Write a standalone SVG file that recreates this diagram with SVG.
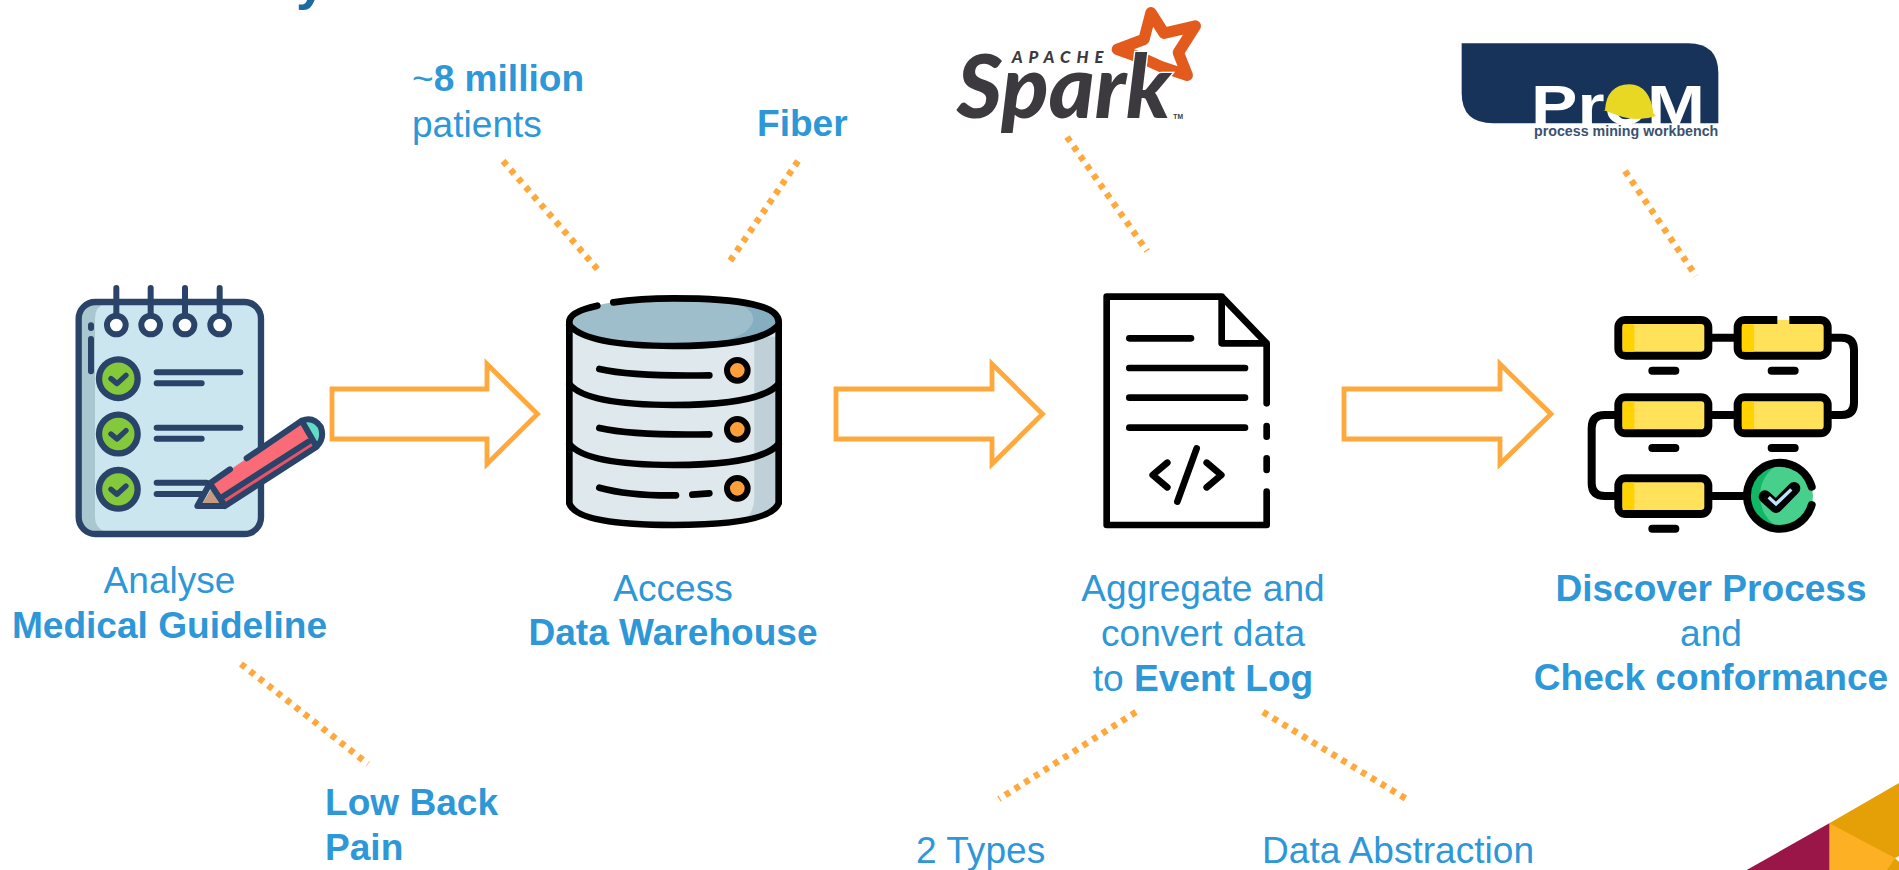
<svg xmlns="http://www.w3.org/2000/svg" width="1899" height="870" viewBox="0 0 1899 870">
<style>
text{font-family:"Liberation Sans",Arial,sans-serif;font-size:37.1px;fill:#2e97d8}
.b{font-weight:700}
.m{text-anchor:middle}
.arrow{fill:#fff;stroke:#ffa83c;stroke-width:4.8;stroke-miterlimit:10}
.dot{fill:none;stroke:#ffa83c;stroke-width:6.5;stroke-dasharray:5.5 6}
.nv{fill:none;stroke:#2a4369;stroke-width:18;stroke-linecap:round;stroke-linejoin:round}
.k{fill:none;stroke:#000;stroke-width:20;stroke-linecap:round;stroke-linejoin:round}
.box{fill:#ffe15a;stroke:#000;stroke-width:24}
.band{fill:#ffd200}
.ring{fill:#fff;stroke:#2a4369;stroke-width:18}
.ck{fill:#84c83b;stroke:#2a4369;stroke-width:19}
.led{fill:#ff9f3a;stroke:#000;stroke-width:18}
</style>
<rect width="1899" height="870" fill="#fff"/>
<g id="title"><text class="b" x="296" y="-1" style="font-size:54px;fill:#1b6ba0">y</text></g>
<g id="corner">
<polygon points="1829.3,823.3 1899,783 1899,870 1829.3,870" fill="#e5a007"/>
<polygon points="1829.3,823.3 1895,858 1887,870 1829.3,870" fill="#feb024"/>
<polygon points="1895,858 1899,856 1899,862" fill="#fff"/>
<polygon points="1829.3,823.3 1829.3,870 1746.7,870" fill="#9a1548"/>
</g>
<g id="connectors">
<path class="arrow" d="M332,389H487V364L537.500,414L487,464V439H332Z"/>
<path class="arrow" d="M836,389H992V364L1042.500,414L992,464V439H836Z"/>
<path class="arrow" d="M1344,389H1500V364L1551,414L1500,464V439H1344Z"/>
<path class="dot" d="M503,161L599,271"/>
<path class="dot" d="M798,161L728,264"/>
<path class="dot" d="M1067,137L1147,251"/>
<path class="dot" d="M1625,171L1696,276"/>
<path class="dot" d="M241,664L368,764"/>
<path class="dot" d="M1136,712L999,799"/>
<path class="dot" d="M1263,712L1408,800"/>
</g>
<g id="node-guideline">
<g transform="translate(60,270) scale(.33333)">
<rect x="56" y="96" width="547" height="696" rx="50" fill="#cbe6ef"/>
<path d="M105,100Q60,100 60,146V742Q60,785 105,785H135Q105,775 105,742V146Q105,110 135,100Z" fill="#a9c7cf"/>
<rect x="56" y="96" width="547" height="696" rx="50" fill="none" stroke="#2a4369" stroke-width="19"/>
<path class="nv" d="M169,54V130M272,54V130M375,54V130M479,54V130M93,166V174M93,207V304"/>
<circle class="ring" cx="169" cy="165" r="28"/><circle class="ring" cx="272" cy="165" r="28"/><circle class="ring" cx="375" cy="165" r="28"/><circle class="ring" cx="479" cy="165" r="28"/>
<circle class="ck" cx="175" cy="326" r="58"/><circle class="ck" cx="175" cy="492" r="58"/><circle class="ck" cx="175" cy="658" r="58"/>
<path class="nv" style="stroke-width:16" d="M153,326L171,341L198,316M153,492L171,507L198,482M153,658L171,673L198,648"/>
<path class="nv" d="M290,307H541M290,340H425M290,473H541M290,506H425M290,638H440M290,672H425"/>
<polygon points="452,640 725,452 748,512 488,680" fill="#fb6b77"/>
<polygon points="488,680 748,512 770,530 495,708" fill="#e9536a"/>
<polygon points="428,700 455,655 482,700" fill="#c49a80"/>
<path d="M725,452Q760,438 782,470Q795,505 770,530Z" fill="#63dcc5"/>
<path class="nv" d="M560,565L725,452Q760,438 782,470Q795,505 770,530L495,708H412L450,640L510,598M450,640L495,708M725,452L770,530M488,680L745,515"/>
</g>
<text class="m" x="169.500" y="593">Analyse</text>
<text class="m b" x="169.500" y="638">Medical Guideline</text>
<text class="b" x="325" y="815">Low Back</text>
<text class="b" x="325" y="860">Pain</text>
</g>
<g id="node-warehouse">
<g transform="translate(520,270) scale(.33333)">
<path d="M148,155V700Q170,765 460,765Q750,765 776,700V155Z" fill="#dee8ed"/>
<path d="M703,200H776V700Q760,740 660,752Q703,740 703,680Z" fill="#bfd0d8"/>
<ellipse cx="460" cy="155" rx="312" ry="72" fill="#9fbecb"/>
<path d="M590,90Q700,100 700,150Q690,205 560,220Q772,210 772,155Q760,105 590,90Z" fill="#85afc0"/>
<path class="k" d="M232,107Q148,125 148,155V700Q170,765 460,765Q750,765 776,700V155Q776,85 460,85Q360,85 280,97"/>
<path class="k" d="M148,165Q200,228 460,228Q720,228 776,165"/>
<path class="k" d="M148,342Q200,405 460,405Q720,405 776,342"/>
<path class="k" d="M148,522Q200,585 460,585Q720,585 776,522"/>
<path class="k" d="M238,297Q340,320 568,316M238,474Q340,497 568,493M238,653Q330,678 468,676M517,674L568,670"/>
<circle class="led" cx="652" cy="301" r="31"/><circle class="led" cx="652" cy="478" r="31"/><circle class="led" cx="652" cy="655" r="31"/>
</g>
<text x="412" y="91"><tspan>~</tspan><tspan class="b">8 million</tspan></text>
<text x="412" y="137">patients</text>
<text class="b" x="757" y="136">Fiber</text>
<text class="m" x="673" y="601">Access</text>
<text class="m b" x="673" y="645">Data Warehouse</text>
</g>
<g id="node-eventlog">
<g transform="translate(1080,280) scale(.33333)">
<path class="k" d="M560,370V190L425,50H80V735H560V635M425,50V190H560M560,438V470M560,535V570M148,175H333M148,264H495M148,353H495M148,443H495M262,548L218,585L262,622M380,548L424,585L380,622M350,505L292,665"/>
</g>
<g id="logo-spark">
<g transform="translate(930,0) scale(.33333)">
<path d="M663,38L702,100L796,78L745,158L772,226L693,200L640,176L562,148L642,118Z" fill="#fff" stroke="#e25a1c" stroke-width="34" stroke-linejoin="round"/>
<text x="80" y="355" textLength="642" lengthAdjust="spacingAndGlyphs" style="font-family:Lato,sans-serif;font-size:262px;font-weight:900;font-style:italic;fill:#3c3a3e;stroke:#fff;stroke-width:8px;paint-order:stroke">Spark</text>
<text x="245" y="190" textLength="275" style="font-family:Lato,sans-serif;font-size:50px;font-weight:900;font-style:italic;fill:#3c3a3e">APACHE</text>
<text x="730" y="356" style="font-family:'Liberation Sans',sans-serif;font-size:20px;font-weight:700;fill:#3c3a3e">TM</text>
</g>
</g>
<text class="m" x="1203" y="601">Aggregate and</text>
<text class="m" x="1203" y="646">convert data</text>
<text class="m" x="1203" y="691">to <tspan class="b">Event Log</tspan></text>
<text x="916" y="863">2 Types</text>
<text x="1262" y="863">Data Abstraction</text>
</g>
<g id="node-process">
<g transform="translate(1570,300) scale(.33333)">
<path class="k" style="stroke-width:24" d="M415,113H503M773,113H815Q852,113 852,150V308Q852,345 815,345H773M415,345H503M145,345H105Q65,345 65,385V550Q65,588 105,588H145M415,588H530M247,212H316M605,212H674M247,444H316M605,444H674M247,686H316"/>
<rect class="box" x="145" y="60" width="270" height="107" rx="22"/>
<rect class="box" x="503" y="60" width="270" height="107" rx="22"/>
<rect class="box" x="145" y="292" width="270" height="108" rx="22"/>
<rect class="box" x="503" y="292" width="270" height="108" rx="22"/>
<rect class="box" x="145" y="535" width="270" height="107" rx="22"/>
<rect class="band" x="158" y="73" width="35" height="82"/><rect class="band" x="516" y="73" width="36" height="82"/>
<rect class="band" x="158" y="305" width="35" height="82"/><rect class="band" x="516" y="305" width="36" height="82"/>
<rect class="band" x="158" y="548" width="35" height="82"/>
<rect x="622" y="46" width="36" height="14" fill="#fff"/>
<rect x="622" y="60" width="36" height="14" fill="#ffe15a"/>
<circle cx="630" cy="588" r="99" fill="#47cf8c"/>
<path d="M630,489A99,99 0 0 0 630,687Q570,650 570,588Q570,525 630,489Z" fill="#10b764"/>
<path d="M725,560A99,99 0 1 0 725,615" fill="none" stroke="#000" stroke-width="24" stroke-linecap="round"/>
<path d="M585,590L618,620L672,565" fill="none" stroke="#000" stroke-width="38" stroke-linecap="round" stroke-linejoin="round"/>
<path d="M596,592L618,612L664,568" fill="none" stroke="#bfe3ff" stroke-width="10"/>
</g>
<g id="logo-prom">
<g transform="translate(1440,30) scale(.33333)">
<path d="M65,40H745Q835,40 835,130V280H160Q65,280 65,190Z" fill="#17335a"/>
<text x="273" y="281" textLength="522" lengthAdjust="spacingAndGlyphs" style="font-size:168px;font-weight:700;fill:#fff">ProM</text>
<path d="M495,240Q500,165 568,163Q630,165 640,250L648,258Q590,278 530,255L490,240Z" fill="#e8d823"/>
<text x="282" y="318" textLength="553" lengthAdjust="spacingAndGlyphs" style="font-size:44px;font-weight:700;fill:#3a5272">process mining workbench</text>
</g>
</g>
<text class="m b" x="1711" y="601">Discover Process</text>
<text class="m" x="1711" y="646">and</text>
<text class="m b" x="1711" y="690">Check conformance</text>
</g>
</svg>
